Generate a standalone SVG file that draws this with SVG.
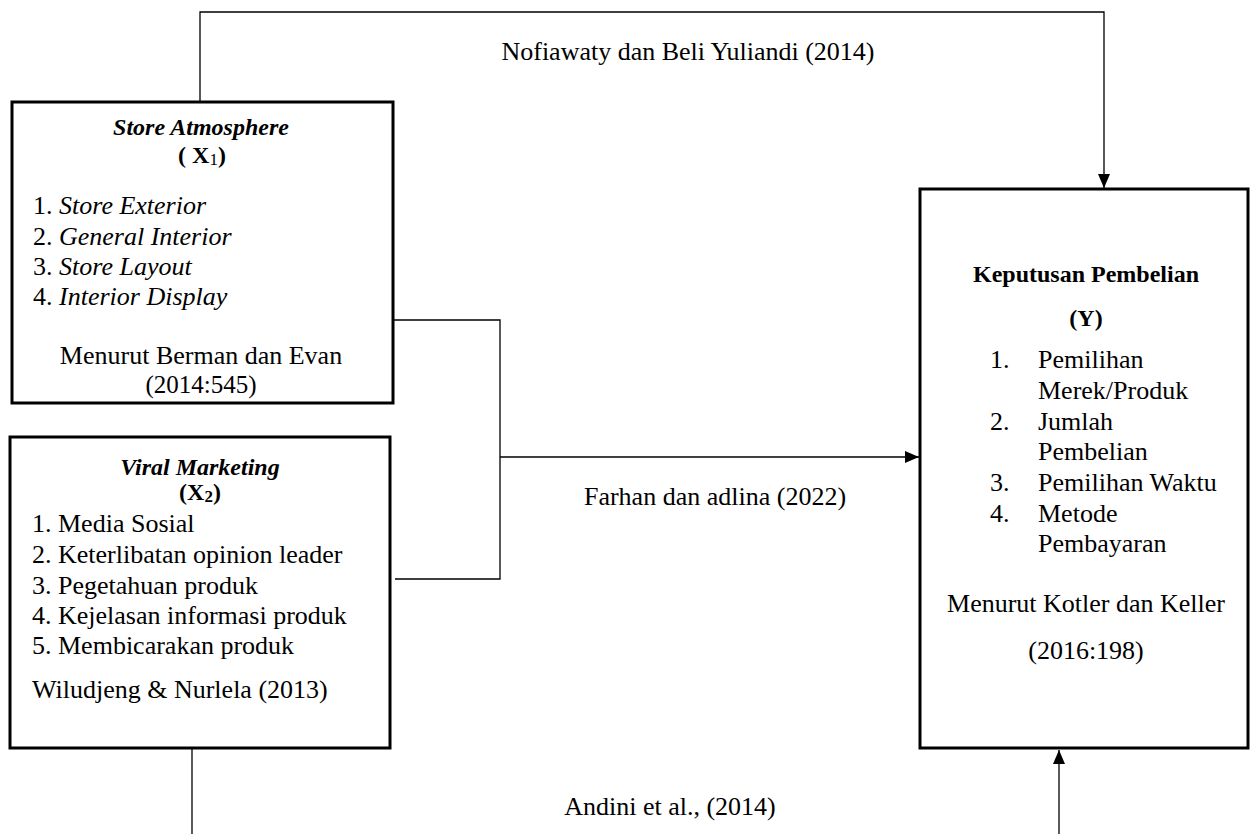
<svg xmlns="http://www.w3.org/2000/svg" width="1251" height="834" viewBox="0 0 1251 834">
<style>
text{font-family:"Liberation Serif","Times New Roman",serif;fill:#000;font-size:26px}
.t{font-size:24px;font-weight:bold}
.c{text-anchor:middle}
.box{fill:#fff;stroke:#000;stroke-width:3}
.ln{fill:none;stroke:#000;stroke-width:1.3}
.sub{font-size:17px}
.s{font-size:25px}
</style>
<defs>
<marker id="ah" markerWidth="14" markerHeight="12" refX="14" refY="6" orient="auto" markerUnits="userSpaceOnUse">
<path d="M0,0 L14,6 L0,12 Z" fill="#000"/>
</marker>
</defs>
<rect width="1251" height="834" fill="#fff"/>
<g id="connectors">
<path class="ln" d="M200,101 V12 H1104 V188" marker-end="url(#ah)"/>
<path class="ln" d="M393,320 H500 V579 H395"/>
<path class="ln" d="M500,457 H919" marker-end="url(#ah)"/>
<path class="ln" d="M192,749 V834"/>
<path class="ln" d="M1059,834 V750" marker-end="url(#ah)"/>
<text class="c" x="688" y="60">Nofiawaty dan Beli Yuliandi (2014)</text>
<text class="c" x="715" y="505">Farhan dan adlina (2022)</text>
<text class="c" x="670" y="815">Andini et al., (2014)</text>
</g>
<g id="store-atmosphere">
<rect class="box" x="12" y="102" width="381" height="301"/>
<text class="t c" x="201" y="135" font-style="italic">Store Atmosphere</text>
<text class="t c" x="202" y="163">( X<tspan class="sub" font-weight="normal" dy="2">1</tspan><tspan dy="-2">)</tspan></text>
<text x="33" y="214">1. <tspan font-style="italic">Store Exterior</tspan></text>
<text x="33" y="245">2. <tspan font-style="italic">General Interior</tspan></text>
<text x="33" y="275">3. <tspan font-style="italic">Store Layout</tspan></text>
<text x="33" y="305">4. <tspan font-style="italic">Interior Display</tspan></text>
<text class="c" x="201" y="364">Menurut Berman dan Evan</text>
<text class="c s" x="201" y="393">(2014:545)</text>
</g>
<g id="viral-marketing">
<rect class="box" x="10" y="437" width="380" height="311"/>
<text class="t c" x="200" y="475" font-style="italic">Viral Marketing</text>
<text class="t c" x="200" y="500">(X<tspan class="sub" dy="2">2</tspan><tspan dy="-2">)</tspan></text>
<text x="32" y="532">1. Media Sosial</text>
<text x="32" y="563">2. Keterlibatan opinion leader</text>
<text x="32" y="594">3. Pegetahuan produk</text>
<text x="32" y="624">4. Kejelasan informasi produk</text>
<text x="32" y="654">5. Membicarakan produk</text>
<text x="32" y="698">Wiludjeng &amp; Nurlela (2013)</text>
</g>
<g id="keputusan-pembelian">
<rect class="box" x="920" y="189" width="328" height="559"/>
<text class="t c" x="1086" y="282">Keputusan Pembelian</text>
<text class="t c" x="1086" y="326">(Y)</text>
<text x="990" y="368">1.</text>
<text x="1038" y="368">Pemilihan</text>
<text x="1038" y="399">Merek/Produk</text>
<text x="990" y="430">2.</text>
<text x="1038" y="430">Jumlah</text>
<text x="1038" y="460">Pembelian</text>
<text x="990" y="491">3.</text>
<text x="1038" y="491">Pemilihan Waktu</text>
<text x="990" y="522">4.</text>
<text x="1038" y="522">Metode</text>
<text x="1038" y="552">Pembayaran</text>
<text class="c" x="1086" y="612">Menurut Kotler dan Keller</text>
<text class="c" x="1086" y="659">(2016:198)</text>
</g>
</svg>
